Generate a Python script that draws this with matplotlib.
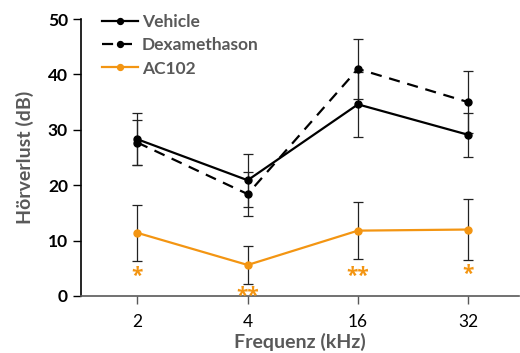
import matplotlib.pyplot as plt
import numpy as np

# data
freq_labels = ["2", "4", "16", "32"]
vehicle = [28.3, 20.9, 34.6, 29.1]
vehicle_err = [4.7, 4.8, 5.9, 4.0]
dexa = [27.7, 18.4, 41.0, 35.0]
dexa_err = [4.0, 4.0, 5.4, 5.6]
ac102 = [11.4, 5.6, 11.8, 12.0]
ac102_err = [5.0, 3.5, 5.2, 5.5]
stars = ["*", "**", "**", "*"]
star_y = [3.5, 0.0, 3.5, 3.8]

ORANGE = "#F39512"
GREY = "#595959"

plt.rcParams["font.family"] = ["Lato", "DejaVu Sans"]

fig = plt.figure(figsize=(5.2, 3.53), dpi=100)
ax = fig.add_axes([0.156, 0.1615, 0.842, 0.7845])
x = np.arange(len(freq_labels))

err_kw = dict(fmt="none", ecolor="#222222", elinewidth=0.9, capsize=3.5, capthick=0.9)
ax.errorbar(x, vehicle, yerr=vehicle_err, **err_kw, zorder=2)
ax.errorbar(x, dexa, yerr=dexa_err, **err_kw, zorder=2)
ax.errorbar(x, ac102, yerr=ac102_err, **err_kw, zorder=2)

ax.plot(x, vehicle, color="black", lw=1.6, marker="o", ms=5, label="Vehicle", zorder=3)
ax.plot(x, dexa, color="black", lw=1.6, ls=(0, (5, 3.5)), marker="o", ms=5,
        label="Dexamethason", zorder=3)
ax.plot(x, ac102, color=ORANGE, lw=1.6, marker="o", ms=5, label="AC102", zorder=3)

# significance stars, drawn as text under the AC102 points
for xi, s, yy in zip(x, stars, star_y):
    ax.text(xi, yy, s, color=ORANGE, fontsize=15, fontweight="bold",
            ha="center", va="center", family=["Open Sans", "DejaVu Sans"],
            clip_on=False)

ax.set_xlim(-0.51, 3.46)
ax.set_ylim(0, 50)
ax.set_xticks(x)
ax.set_xticklabels(freq_labels, fontsize=12.5)
ax.set_yticks(range(0, 51, 10))
ax.set_yticklabels([str(v) for v in range(0, 51, 10)], fontsize=12.5, fontweight="bold")
ax.tick_params(axis="both", direction="out", length=6, width=1, colors="black")
ax.tick_params(axis="x", color=GREY, pad=7)

for side in ["top", "right"]:
    ax.spines[side].set_visible(False)
ax.spines["left"].set_color("black")
ax.spines["bottom"].set_color(GREY)
ax.spines["left"].set_linewidth(1.2)
ax.spines["bottom"].set_linewidth(1.2)

ax.set_xlabel("Frequenz (kHz)", fontsize=14, fontweight="bold", color=GREY, labelpad=2)
ax.set_ylabel("Hörverlust (dB)", fontsize=14, fontweight="bold", color=GREY, labelpad=10)

leg = ax.legend(loc="upper left", bbox_to_anchor=(0.012, 1.075), frameon=False,
                handlelength=2.1, handletextpad=0.2, labelspacing=0.42,
                markerscale=0.85, prop={"size": 12.5, "weight": "bold"})
for t in leg.get_texts():
    t.set_color(GREY)

fig.savefig("out.png", dpi=100)
